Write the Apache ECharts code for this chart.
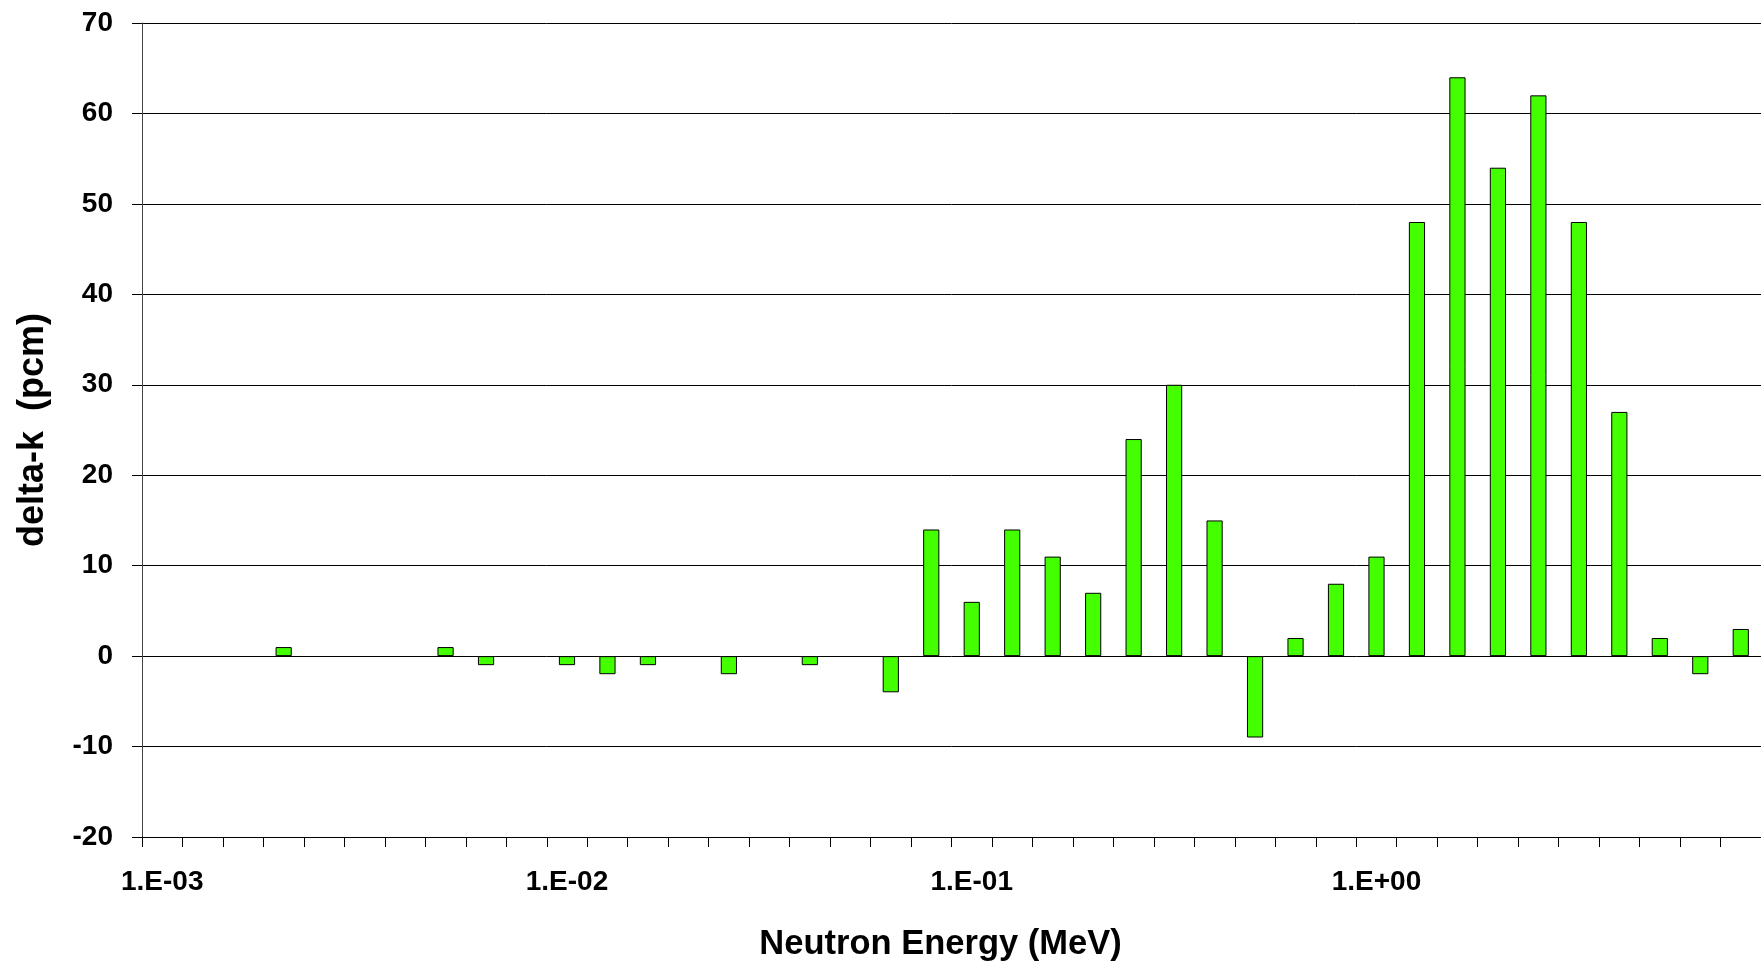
<!DOCTYPE html>
<html>
<head>
<meta charset="utf-8">
<script src="https://cdn.jsdelivr.net/npm/echarts@6/dist/echarts.min.js"></script>
<style>
html,body{margin:0;padding:0;background:#fff;}
#chart{width:1761px;height:964px;}
</style>
</head>
<body>
<div id="chart"></div>
<script>
// Energy bins (MeV), 10 per decade, one category each
var categories = [
  "1.E-03","1.3E-03","1.6E-03","2.0E-03","2.5E-03","3.2E-03","4.0E-03","5.0E-03","6.3E-03","7.9E-03",
  "1.E-02","1.3E-02","1.6E-02","2.0E-02","2.5E-02","3.2E-02","4.0E-02","5.0E-02","6.3E-02","7.9E-02",
  "1.E-01","1.3E-01","1.6E-01","2.0E-01","2.5E-01","3.2E-01","4.0E-01","5.0E-01","6.3E-01","7.9E-01",
  "1.E+00","1.3E+00","1.6E+00","2.0E+00","2.5E+00","3.2E+00","4.0E+00","5.0E+00","6.3E+00","7.9E+00"
];
// delta-k (pcm) per energy bin; null = no bar
var deltaK = [
  null, null, null, 1, null, null, null, 1, -1, null,
  -1, -2, -1, null, -2, null, -1, null, -4, 14,
  6, 14, 11, 7, 24, 30, 15, -9, 2, 8,
  11, 48, 64, 54, 62, 48, 27, 2, -2, 3
];
var yTicks = { min: -20, max: 70, interval: 10 };

var FONT = "'Liberation Sans', Arial, 'DejaVu Sans', sans-serif";
var chart = echarts.init(document.getElementById('chart'));
chart.setOption({
  animation: false,
  backgroundColor: '#ffffff',
  grid: { left: 142, right: 0, top: 23, bottom: 127, containLabel: false, outerBoundsMode: 'none' },
  xAxis: {
    type: 'category',
    data: categories,
    boundaryGap: true,
    name: 'Neutron Energy (MeV)',
    nameLocation: 'middle',
    nameGap: 90,
    nameTextStyle: { fontFamily: FONT, fontWeight: 'bold', fontSize: 34.5, color: '#000', padding: [0, 22, 0, 0] },
    axisLine: { onZero: false, lineStyle: { color: '#000', width: 1 } },
    axisTick: { show: true, interval: 0, length: 10, inside: false, lineStyle: { color: '#000', width: 1 } },
    axisLabel: { interval: 9, margin: 31, fontFamily: FONT, fontWeight: 'bold', fontSize: 28, color: '#000' },
    splitLine: { show: false }
  },
  yAxis: {
    type: 'value',
    min: yTicks.min, max: yTicks.max, interval: yTicks.interval,
    name: 'delta-k  (pcm)',
    nameLocation: 'middle',
    nameGap: 91,
    nameRotate: 90,
    nameTextStyle: { fontFamily: FONT, fontWeight: 'bold', fontSize: 36, color: '#000' },
    axisLine: { show: true, lineStyle: { color: '#444', width: 1 } },
    axisTick: { show: true, length: 10, inside: false, lineStyle: { color: '#000', width: 1 } },
    axisLabel: { margin: 29, fontFamily: FONT, fontWeight: 'bold', fontSize: 28, color: '#000' },
    splitLine: { show: true, lineStyle: { color: '#000', width: 1 } }
  },
  series: [{
    type: 'bar',
    data: deltaK,
    barWidth: '40%',
    itemStyle: { color: '#44ff00', borderColor: '#000', borderWidth: 1 }
  }]
});
</script>
</body>
</html>
